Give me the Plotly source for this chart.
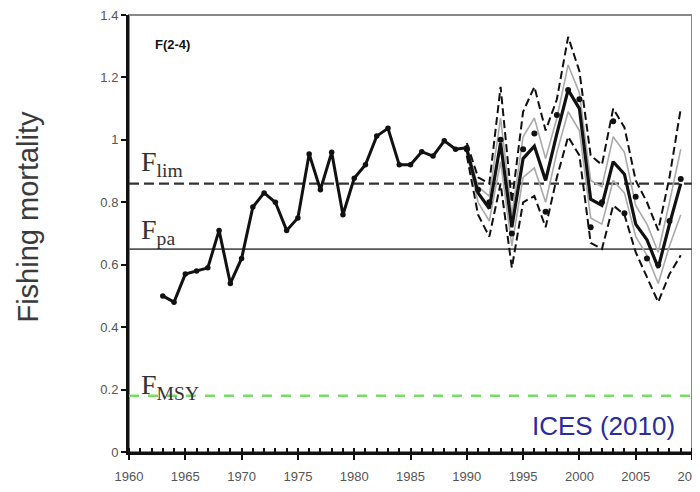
import plotly.graph_objects as go

# Historical assessment 1963-1990
hist_years = list(range(1963, 1991))
hist_f = [0.50, 0.48, 0.57, 0.58, 0.59, 0.71, 0.54, 0.62, 0.785, 0.83, 0.80, 0.71,
          0.75, 0.955, 0.84, 0.96, 0.76, 0.877, 0.92, 1.012, 1.037, 0.92, 0.92,
          0.962, 0.948, 0.997, 0.97, 0.975]

# Fan chart 1990-2009
fan_years = list(range(1990, 2010))
central = [0.97, 0.83, 0.78, 0.99, 0.72, 0.94, 0.98, 0.87, 1.02, 1.16,
           1.10, 0.81, 0.79, 0.93, 0.89, 0.73, 0.68, 0.59, 0.73, 0.86]
upper = [0.99, 0.88, 0.86, 1.17, 0.80, 1.09, 1.17, 1.03, 1.13, 1.33,
         1.22, 0.95, 0.92, 1.10, 1.04, 0.87, 0.80, 0.71, 0.88, 1.10]
lower = [0.95, 0.76, 0.69, 0.86, 0.59, 0.80, 0.82, 0.72, 0.88, 1.01,
         0.95, 0.67, 0.65, 0.79, 0.76, 0.64, 0.56, 0.48, 0.57, 0.63]
gray_hi = [0.98, 0.85, 0.82, 1.07, 0.76, 1.01, 1.07, 0.94, 1.07, 1.24,
           1.15, 0.87, 0.85, 1.01, 0.96, 0.79, 0.73, 0.64, 0.80, 0.97]
gray_lo = [0.96, 0.80, 0.74, 0.93, 0.66, 0.88, 0.91, 0.80, 0.96, 1.09,
           1.03, 0.75, 0.73, 0.87, 0.83, 0.69, 0.63, 0.54, 0.66, 0.76]
dots = [0.97, 0.84, 0.80, 1.00, 0.70, 0.97, 1.02, 0.77, 1.08, 1.16,
        1.13, 0.72, 0.80, 1.06, 0.765, 0.818, 0.62, 0.60, 0.74, 0.875]

F_lim = 0.86
F_pa = 0.65
F_msy = 0.18

x_ticks = [1960, 1965, 1970, 1975, 1980, 1985, 1990, 1995, 2000, 2005, 2010]
y_ticks = [0, 0.2, 0.4, 0.6, 0.8, 1.0, 1.2, 1.4]

fig = go.Figure()

# reference lines
for yv, col, dash, w in [(F_msy, "#77dd66", "10px,9px", 2.5),
                         (F_pa, "#555555", "solid", 1.6),
                         (F_lim, "#333333", "10px,5px", 2.2)]:
    fig.add_trace(go.Scatter(x=[1960, 2010], y=[yv, yv], mode="lines",
                             line=dict(color=col, width=w, dash=dash),
                             showlegend=False, hoverinfo="skip"))

for series, col, w, dash in [(gray_hi, "#aaaaaa", 1.6, "solid"),
                             (gray_lo, "#aaaaaa", 1.6, "solid"),
                             (upper, "#111111", 2.0, "8px,4px"),
                             (lower, "#111111", 2.0, "8px,4px")]:
    fig.add_trace(go.Scatter(x=fan_years, y=series, mode="lines",
                             line=dict(color=col, width=w, dash=dash),
                             showlegend=False))

fig.add_trace(go.Scatter(x=fan_years, y=central, mode="lines",
                         line=dict(color="#111111", width=3.2),
                         showlegend=False))
fig.add_trace(go.Scatter(x=fan_years, y=dots, mode="markers",
                         marker=dict(color="#111111", size=6),
                         showlegend=False))
fig.add_trace(go.Scatter(x=hist_years, y=hist_f, mode="lines+markers",
                         line=dict(color="#111111", width=3),
                         marker=dict(color="#111111", size=5.5),
                         showlegend=False))

# gray frame (top/right)
fig.add_shape(type="rect", xref="paper", yref="paper", x0=0, y0=0, x1=1, y1=1,
              line=dict(color="#888888", width=2), layer="below")

serif = "Liberation Serif, Times New Roman, serif"
sans = "Liberation Sans, Arial, sans-serif"
fig.add_annotation(x=1960.9, y=F_lim, xanchor="left", yanchor="bottom", yshift=1,
                   text="F<sub>lim</sub>", showarrow=False,
                   font=dict(family=serif, size=28, color="#333333"))
fig.add_annotation(x=1960.9, y=F_pa, xanchor="left", yanchor="bottom", yshift=-2,
                   text="F<sub>pa</sub>", showarrow=False,
                   font=dict(family=serif, size=28, color="#333333"))
fig.add_annotation(x=1960.9, y=F_msy, xanchor="left", yanchor="bottom", yshift=-10,
                   text="F<sub>MSY</sub>", showarrow=False,
                   font=dict(family=serif, size=28, color="#333333"))
fig.add_annotation(x=1962.1, y=1.305, xanchor="left", yanchor="middle",
                   text="<b>F(2-4)</b>", showarrow=False,
                   font=dict(family=sans, size=13, color="#111111"))
fig.add_annotation(x=2008.7, y=0.083, xanchor="right", yanchor="middle",
                   text="ICES (2010)", showarrow=False,
                   font=dict(family=sans, size=26, color="#2b2b9b"))
fig.add_annotation(xref="paper", yref="paper", x=-0.18, y=0.538,
                   xanchor="center", yanchor="middle", textangle=-90,
                   text="Fishing mortality", showarrow=False,
                   font=dict(family=sans, size=29, color="#3a3a3a"))

tickfont = dict(family="Liberation Sans Narrow, Liberation Sans, Arial", size=13,
                color="#555555")
fig.update_xaxes(range=[1960, 2010], tickvals=x_ticks, ticks="outside", ticklen=5,
                 tickwidth=1.5, tickcolor="#111111", automargin=False,
                 ticklabeloverflow="allow", ticklabelstandoff=5,
                 showline=True, linecolor="#111111", linewidth=3,
                 showgrid=False, zeroline=False, tickfont=tickfont,
                 minor=dict(dtick=1, ticks="inside", ticklen=4, tickcolor="#111111",
                            tickwidth=1.5, showgrid=False))
fig.update_yaxes(range=[0, 1.4], tickvals=y_ticks, ticks="outside", ticklen=5,
                 tickwidth=1.5, tickcolor="#111111", automargin=False,
                 ticklabeloverflow="allow",
                 showline=True, linecolor="#111111", linewidth=3,
                 showgrid=False, zeroline=False, tickfont=tickfont)

fig.update_layout(width=700, height=492, margin=dict(l=121, r=16, t=7, b=48),
                  plot_bgcolor="white", paper_bgcolor="white", showlegend=False)

fig.write_html("out.html")
